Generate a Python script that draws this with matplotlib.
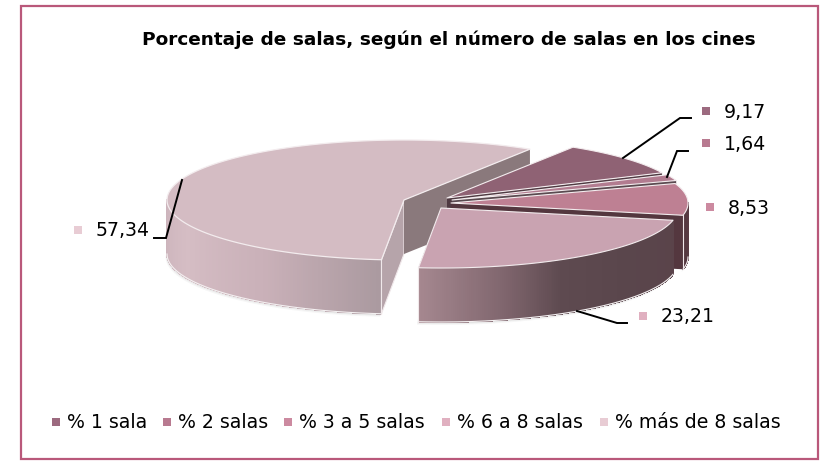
import numpy as np
import matplotlib
matplotlib.use("Agg")
import matplotlib.pyplot as plt
from matplotlib.collections import PolyCollection
from matplotlib.patches import Polygon, Rectangle
from matplotlib.colors import to_rgb

title = "Porcentaje de salas, según el número de salas en los cines"
categories = ["% 1 sala", "% 2 salas", "% 3 a 5 salas", "% 6 a 8 salas", "% más de 8 salas"]
values = [9.17, 1.64, 8.53, 23.21, 57.34]
value_labels = ["9,17", "1,64", "8,53", "23,21", "57,34"]

top_colors = ["#8f6274", "#b27c90", "#be8093", "#c9a3b1", "#d4bcc3"]
legend_colors = ["#9c6a7f", "#b87a90", "#cc8aa0", "#e0b0c0", "#e8ccd4"]
cut_colors = ["#4f3a42", "#5a4a50", "#54373f", "#5a464c", "#8a797c"]
apex = [(447, 198), (452, 200), (451, 203), (441, 208), (404, 200)]
A, B, H = 237, 60, 54
START = 57.9


def pt(c, t, dy=0):
    r = np.radians(t)
    return (c[0] + A * np.cos(r), c[1] - B * np.sin(r) + dy)


def lerp(stops, t):
    stops = sorted(stops, key=lambda s: s[0])
    xs = [s[0] for s in stops]
    rgb = np.array([to_rgb(s[1]) for s in stops])
    return tuple(np.interp(t, xs, rgb[:, i]) for i in range(3))


def wall(ax, c, t0, t1, stops, z):
    ts = np.linspace(t0, t1, max(int(abs(t1 - t0) * 2), 2))
    polys, cols = [], []
    for a, b in zip(ts[:-1], ts[1:]):
        polys.append([pt(c, a), pt(c, b), pt(c, b, H), pt(c, a, H)])
        cols.append(lerp(stops, (a + b) / 2))
    ax.add_collection(PolyCollection(polys, facecolors=cols, edgecolors=cols, linewidths=0.6,
                                     antialiaseds=False, zorder=z))
    arc = [pt(c, t, H) for t in ts]
    ax.plot(*zip(*arc), color="#f4f0f1", lw=0.8, zorder=z + 0.1)
    ax.plot(*zip(*[pt(c, t1), pt(c, t1, H)]), color="#f0e8ea", lw=0.8, zorder=z + 0.1)


def shadow(ax, c, t0, t1, z):
    ts = np.linspace(t0, t1, 80)
    for off, al in ((3.0, .05), (1.8, .08), (0.8, .10)):
        up = [pt(c, t, H - 6) for t in ts]
        lo = [pt((c[0] - 0.5 * off, c[1]), t, H + off) for t in ts[::-1]]
        ax.add_patch(Polygon(up + lo, closed=True, fc="#555555", ec="none", alpha=al, zorder=z))


fig = plt.figure(figsize=(8.25, 4.62), dpi=100)
ax = fig.add_axes([0, 0, 1, 1])
ax.set_xlim(0, 825)
ax.set_ylim(462, 0)
ax.axis("off")
ax.add_patch(Rectangle((21, 6), 796.5, 453, fc="white", ec="#b9587a", lw=1.6, zorder=0))

sweeps = [v / sum(values) * 360 for v in values]
bounds = START - np.cumsum([0] + sweeps)
slices = [(bounds[k + 1], bounds[k]) for k in range(5)]

big_lo, big_hi = START, START + sweeps[4]
c = apex[4]
shadow(ax, c, 180, big_hi, 1)
wall(ax, c, 180, big_hi, [(180, "#cbb3bb"), (205, "#d5bdc4"), (235, "#c9b0b8"), (264, "#ab9aa0")], 2)
ax.add_patch(Polygon([c, pt(c, big_hi), pt(c, big_hi, H), (c[0], c[1] + H)], closed=True,
                     fc="#b6a4aa", ec="#f0e8ea", lw=0.8, zorder=3))
ax.add_patch(Polygon([c, pt(c, big_lo), pt(c, big_lo, H), (c[0], c[1] + H)], closed=True,
                     fc=cut_colors[4], ec="none", zorder=3))
ts = np.linspace(big_lo, big_hi, 240)
ax.add_patch(Polygon([c] + [pt(c, t) for t in ts], closed=True, fc=top_colors[4], ec="#f3ecee",
                     lw=0.9, joinstyle="round", zorder=4))

for k in range(4):
    lo, hi = slices[k]
    c = apex[k]
    z = 5 + k * 3
    if lo < 0:
        s0 = max(lo, -100)
        s1 = min(hi, 0)
        shadow(ax, c, s0, s1, z - 0.5)
        stops = [(-97, "#a88a92"), (-75, "#80666e"), (-60, "#5e4a50"), (-40, "#5a464c"), (0, "#5a4249")]
        if k == 2:
            stops = [(-12, "#54373f"), (0, "#5a3d46")]
        wall(ax, c, s1, s0, stops, z + 0.5)
    ax.add_patch(Polygon([c, pt(c, lo), pt(c, lo, H), (c[0], c[1] + H)], closed=True,
                         fc=cut_colors[k], ec="none", zorder=z))
    ts = np.linspace(lo, hi, 80)
    ax.add_patch(Polygon([c] + [pt(c, t) for t in ts], closed=True, fc=top_colors[k], ec="#f3ecee",
                         lw=0.8, joinstyle="round", zorder=z + 1))

ax.text(448.5, 40, title, ha="center", va="center", fontsize=13.3, fontweight="bold", color="black",
        family="DejaVu Sans", zorder=40)

leaders = [[(623, 158), (680, 118), (691, 118)],
           [(667, 177), (677, 151), (688, 151)],
           None,
           [(577, 311), (617, 323), (627, 323)],
           [(182, 180), (166, 238), (154, 238)]]
for l in leaders:
    if l:
        ax.plot(*zip(*l), color="black", lw=1.4, zorder=41, solid_joinstyle="miter")

label_marker = [(706, 111), (706, 143), (710, 207), (643, 316), (78, 230)]
for (mx, my), txt, col in zip(label_marker, value_labels, legend_colors):
    ax.add_patch(Rectangle((mx - 4, my - 4), 8, 8, fc=col, ec="none", zorder=41))
    ax.text(mx + 17.5, my + 1, txt, ha="left", va="center", fontsize=13.6, family="DejaVu Sans",
            color="black", zorder=41)

legend_x = [56, 167, 288, 446, 604]
for x, name, col in zip(legend_x, categories, legend_colors):
    ax.add_patch(Rectangle((x - 4, 418), 8, 8, fc=col, ec="none", zorder=41))
    ax.text(x + 11, 422, name, ha="left", va="center", fontsize=13.6, family="DejaVu Sans",
            color="black", zorder=41)

fig.savefig("out.png", dpi=100)
